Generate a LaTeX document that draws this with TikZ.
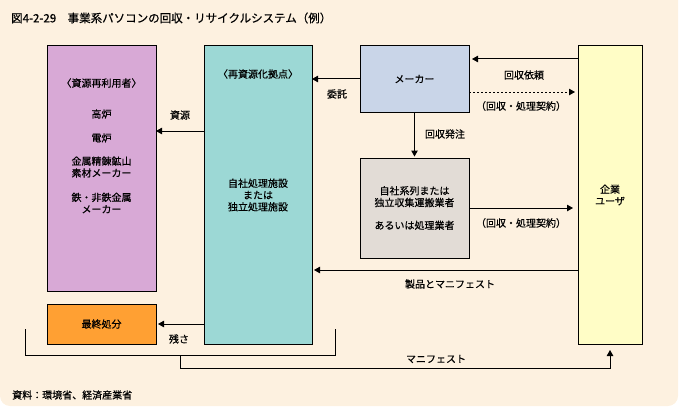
\documentclass[tikz,border=0pt]{standalone}
\usepackage{fontspec}
\newfontfamily\jp[FakeBold=0.5]{Noto Sans CJK JP}
\usetikzlibrary{arrows.meta}
\definecolor{bgc}{HTML}{FDF1E0}
\definecolor{pinkc}{HTML}{D8A9D6}
\definecolor{orangec}{HTML}{FFA033}
\definecolor{tealc}{HTML}{9CD8D5}
\definecolor{bluec}{HTML}{C9D5E8}
\definecolor{grayc}{HTML}{E2DCD6}
\definecolor{yellowc}{HTML}{FFFDC6}
\tikzset{
  box/.style={draw=black, line width=1pt, inner sep=0pt, outer sep=0pt, align=center,
    font=\jp\fontsize{10}{11.8}\selectfont},
  lbl/.style={inner sep=0pt, font=\jp\fontsize{10}{11.8}\selectfont, align=center},
  arr/.style={line width=1pt, -{Triangle[length=6pt,width=6.5pt]}},
  ln/.style={line width=1pt},
}
\begin{document}
\begin{tikzpicture}[x=1pt,y=-1pt]
\useasboundingbox (0,0) rectangle (680,420);
\fill[bgc, rounded corners=10pt] (0,-12) rectangle (678,406);
\node[lbl, anchor=west, font=\jp\fontsize{11.5}{13}\selectfont] (title) at (11,18) {図4-2-29　事業系パソコンの回収・リサイクルシステム（例）};
% boxes
\node[box, fill=pinkc, minimum width=109pt, minimum height=245pt] (pink) at (101.5,168.5) {};
\node[box, fill=orangec, minimum width=109pt, minimum height=40pt] (orange) at (101.5,324) {最終処分};
\node[box, fill=tealc, minimum width=108pt, minimum height=298pt] (teal) at (258,195) {自社処理施設\\または\\独立処理施設};
\node[box, fill=bluec, minimum width=109pt, minimum height=66pt] (maker) at (414.5,79) {メーカー};
\node[box, fill=grayc, minimum width=109pt, minimum height=100pt] (gray) at (414.5,208) {自社系列または\\独立収集運搬業者\\[11pt]あるいは処理業者};
\node[box, fill=yellowc, minimum width=64pt, minimum height=298pt] (user) at (610,195) {企業\\ユーザ};
% texts in pink box
\node[lbl] (p0) at (101.5,83) {〈資源再利用者〉};
\node[lbl] (p1) at (101.5,114) {高炉};
\node[lbl] (p2) at (101.5,138) {電炉};
\node[lbl] (p3) at (101.5,167) {金属精錬鉱山\\素材メーカー};
\node[lbl] (p4) at (101.5,203) {鉄・非鉄金属\\メーカー};
\node[lbl] (t0) at (258,74) {〈再資源化拠点〉};
% connectors
\draw[arr] (teal.west |- 0,131) -- (pink.east |- 0,131);
\draw[arr] (maker.west) -- (teal.east |- maker.west);
\draw[arr, shorten >=3pt] (user.west |- 0,59) -- (maker.east |- 0,59);
\draw[arr, dashed, dash pattern=on 2pt off 2pt, shorten >=3pt] (maker.east |- 0,92) -- (user.west |- 0,92);
\draw[arr, shorten >=1.5pt] (maker.south) -- (gray.north);
\draw[arr, shorten >=5pt] (gray.east) -- (user.west |- gray.east);
\draw[arr, shorten >=2pt] (user.west |- 0,270) -- (teal.east |- 0,270);
\draw[arr, shorten >=2pt] (teal.west |- orange.east) -- (orange.east);
\coordinate (b1) at (25,329);
\coordinate (b2) at (335,329);
\coordinate (bm) at (180,355);
\draw[ln] (b1) |- (b2 |- bm) -- (b2);
\draw[arr, shorten >=6pt] (bm) -- (180,368) -| (user.south);
% labels
\node[lbl] (l1) at (180,115) {資源};
\node[lbl] (l2) at (337,94) {委託};
\node[lbl] (l3) at (524,75) {回収依頼};
\node[lbl] (l4) at (521,106) {（回収・処理契約）};
\node[lbl] (l5) at (445,134) {回収発注};
\node[lbl] (l6) at (521,223) {（回収・処理契約）};
\node[lbl] (l7) at (450,284) {製品とマニフェスト};
\node[lbl] (l8) at (179,339) {残さ};
\node[lbl] (l9) at (436,359) {マニフェスト};
\node[lbl, anchor=west] (src) at (12,395) {資料：環境省、経済産業省};
\end{tikzpicture}
\end{document}
